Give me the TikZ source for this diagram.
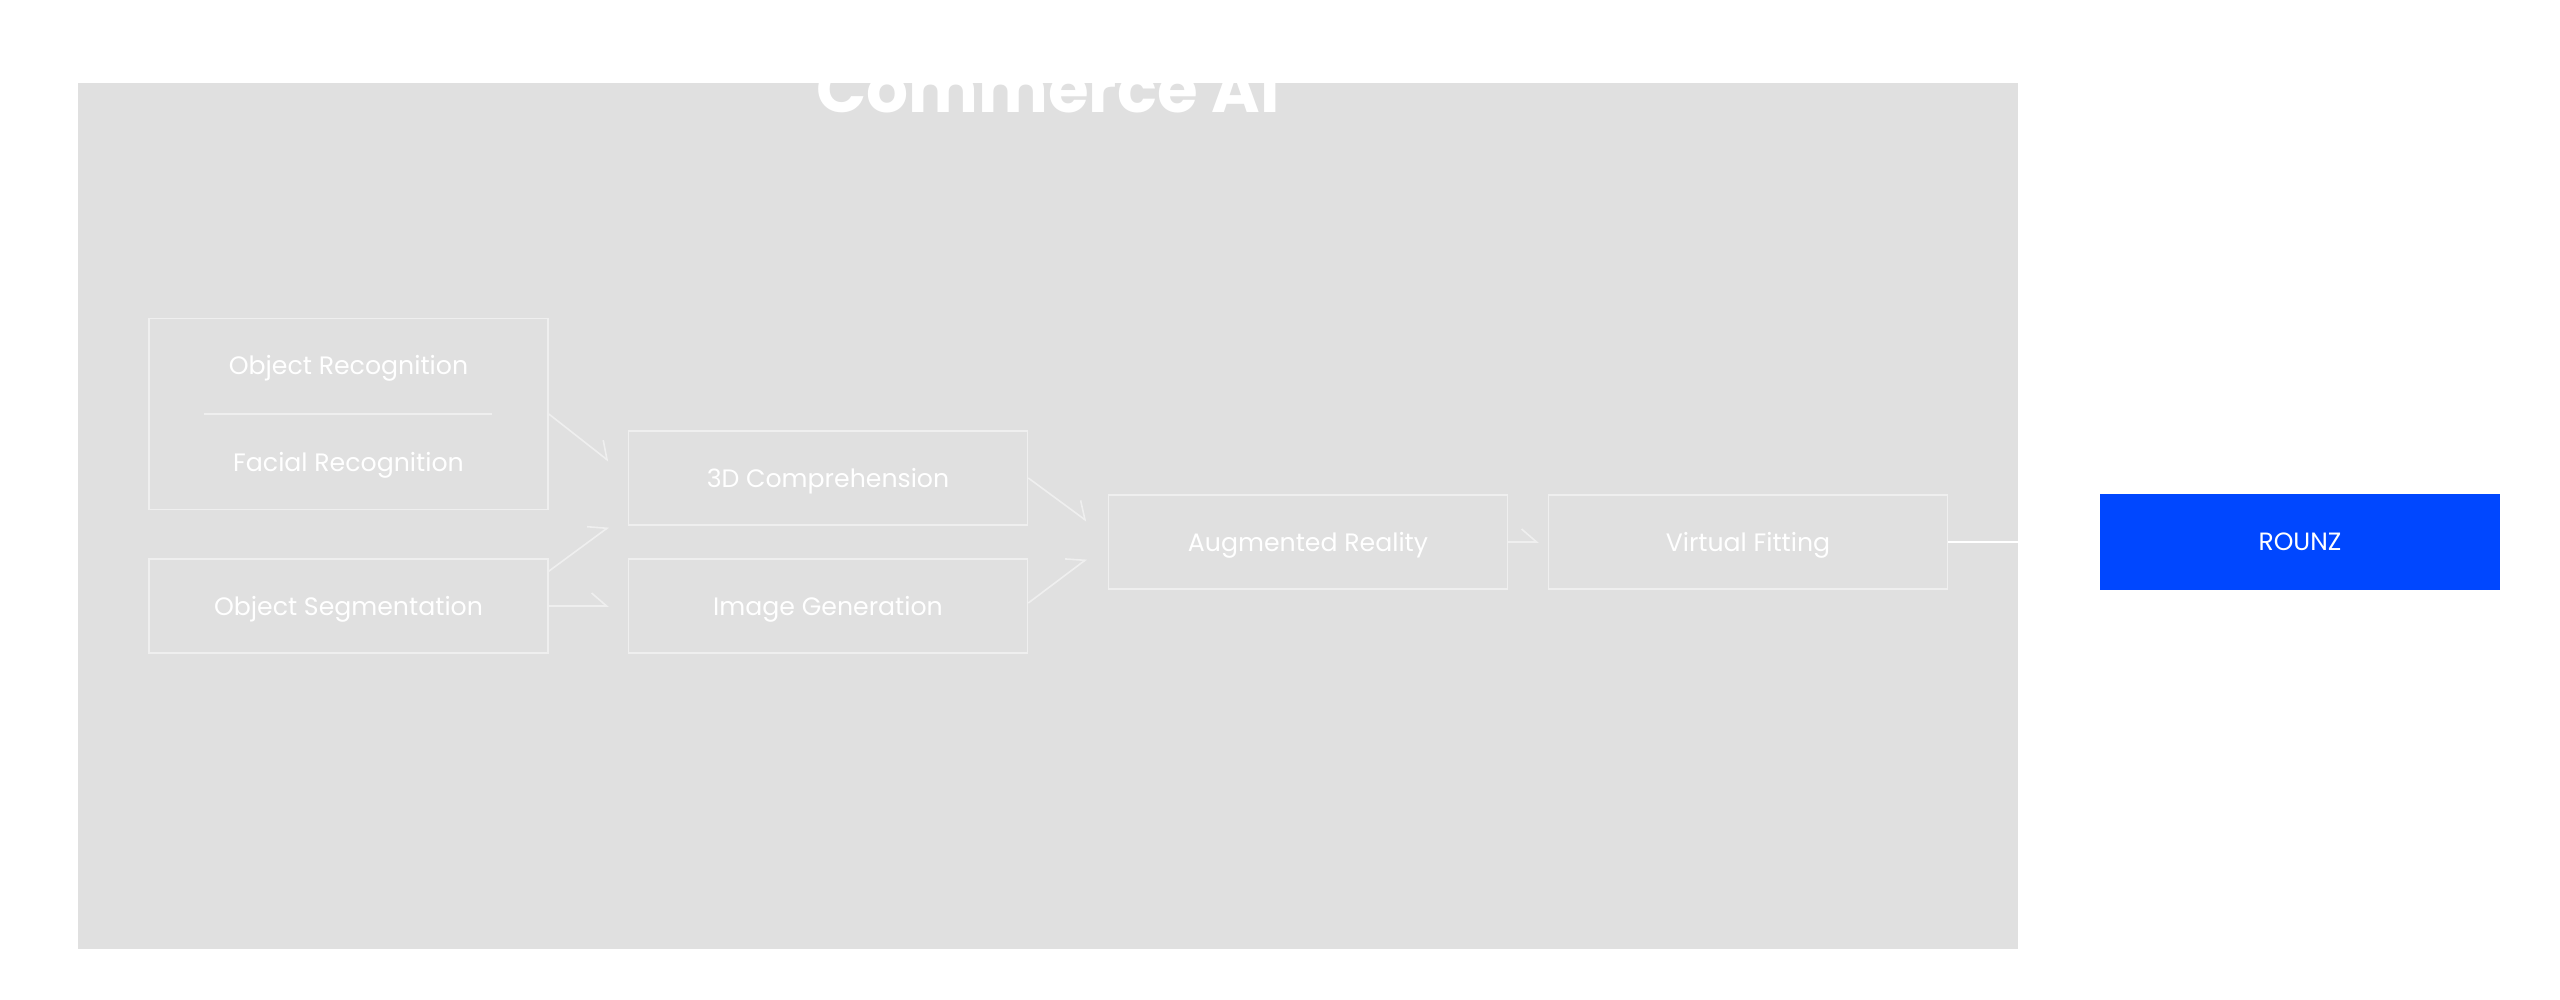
\documentclass[tikz,border=0pt]{standalone}
\usepackage{fontspec}
\setmainfont{Poppins}
\usetikzlibrary{arrows.meta}
\definecolor{panelgray}{HTML}{E0E0E0}
\definecolor{edgewhite}{HTML}{EFEFEF}
\definecolor{rounzblue}{HTML}{0047FF}
\tikzset{
  boxnode/.style={draw=edgewhite, line width=0.8pt, rectangle, inner sep=0pt,
    minimum width=199.5pt, minimum height=47pt, text=white,
    text height=10pt, text depth=1pt, font=\fontsize{12.6}{14}\selectfont},
  flowarrow/.style={draw=edgewhite, line width=0.8pt,
    -{Straight Barb[harpoon, length=7.5pt, width=13pt, line width=0.8pt]}},
  labeltext/.style={text=white, inner sep=0pt, text height=10pt, text depth=1pt,
    font=\fontsize{12.6}{14}\selectfont}
}
\begin{document}
\begin{tikzpicture}[x=0.5pt,y=-0.5pt]
\useasboundingbox (0,0) rectangle (2560,1000);
\fill[white] (0,0) rectangle (2560,1000);
\fill[panelgray] (78,83) rectangle (2018,949);
\node[anchor=base, text=white, inner sep=0pt, font=\fontsize{33}{38}\selectfont\bfseries] (title) at (1048,113) {Commerce AI};
% boxes
\node[boxnode, minimum height=95.5pt] (b1) at (348.5,414) {};
\node[labeltext] (objrec) at (348.5,365) {Object Recognition};
\node[labeltext] (facrec) at (348.5,462) {Facial Recognition};
\coordinate (divl) at (204,414);
\coordinate (divr) at (492,414);
\draw[edgewhite, line width=0.8pt] (divl) -- (divr);
\node[boxnode] (seg) at (348.5,606) {Object Segmentation};
\node[boxnode] (comp) at (828,478) {3D Comprehension};
\node[boxnode] (gen) at (828,606) {Image Generation};
\node[boxnode] (ar) at (1308,542) {Augmented Reality};
\node[boxnode] (vf) at (1748,542) {Virtual Fitting};
\node[fill=rounzblue, rectangle, inner sep=0pt, minimum width=200pt, minimum height=48pt,
  text=white, text height=9pt, text depth=1pt, font=\fontsize{12.5}{14}\selectfont] (rounz) at (2300,542) {ROUNZ};
% arrows
\draw[flowarrow] (b1.east) -- ([xshift=-9.5pt,yshift=8.5pt]comp.west);
\draw[flowarrow] ([yshift=-6.5pt]seg.north east) -- ([xshift=-9.5pt,yshift=-24.5pt]comp.west);
\draw[flowarrow] (seg.east) -- ([xshift=-9.5pt]gen.west);
\draw[flowarrow] (comp.east) -- ([xshift=-10.5pt,yshift=10.5pt]ar.west);
\draw[flowarrow] ([yshift=1.5pt]gen.east) -- ([xshift=-10.5pt,yshift=-8.5pt]ar.west);
\draw[flowarrow] (ar.east) -- ([xshift=-4.5pt]vf.west);
\draw[white, line width=1.2pt] (vf.east) -- (rounz.west);
\end{tikzpicture}
\end{document}
